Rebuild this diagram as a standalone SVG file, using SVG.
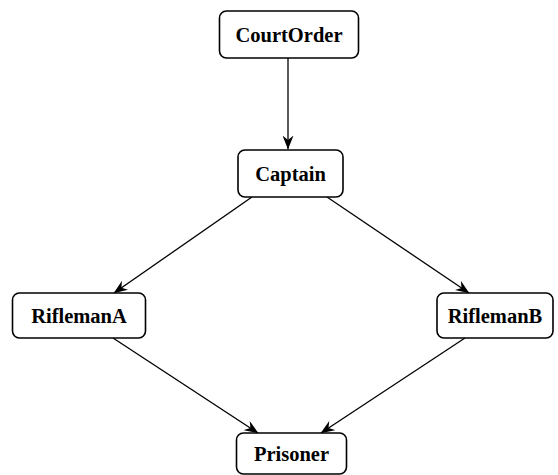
<svg xmlns="http://www.w3.org/2000/svg" width="558" height="475" viewBox="0 0 558 475">
  <style>
    .box { fill: #ffffff; stroke: #000000; stroke-width: 1.6; }
    .label { font-family: "Liberation Serif", "DejaVu Serif", serif; font-weight: bold; font-size: 20.5px; fill: #000000; text-anchor: middle; dominant-baseline: central; }
    .edge { stroke: #000000; stroke-width: 1.3; fill: none; marker-end: url(#head); }
  </style>
  <defs>
    <marker id="head" viewBox="0 0 14 11" refX="13.5" refY="5.5" markerWidth="14" markerHeight="11" markerUnits="userSpaceOnUse" orient="auto">
      <path d="M0,0 L14,5.5 L0,11 L4.5,5.5 Z" fill="#000000"/>
    </marker>
  </defs>
  <rect width="558" height="475" fill="#ffffff"/>
  <g id="connectors">
    <line class="edge" x1="288" y1="58" x2="288" y2="149"/>
    <line class="edge" x1="252" y1="197" x2="114" y2="293"/>
    <line class="edge" x1="327" y1="197" x2="469" y2="293"/>
    <line class="edge" x1="113" y1="338" x2="258" y2="433"/>
    <line class="edge" x1="465" y1="338" x2="321" y2="433"/>
  </g>
  <g id="CourtOrder">
    <rect class="box" x="219.5" y="11" width="139" height="47" rx="7"/>
    <text class="label" x="289" y="34.5">CourtOrder</text>
  </g>
  <g id="Captain">
    <rect class="box" x="238" y="150" width="105" height="47" rx="7"/>
    <text class="label" x="290.5" y="173.5">Captain</text>
  </g>
  <g id="RiflemanA">
    <rect class="box" x="12.5" y="293" width="133" height="45" rx="7"/>
    <text class="label" x="79" y="315.5">RiflemanA</text>
  </g>
  <g id="RiflemanB">
    <rect class="box" x="437" y="293" width="116" height="45" rx="7"/>
    <text class="label" x="495" y="315.5">RiflemanB</text>
  </g>
  <g id="Prisoner">
    <rect class="box" x="236.5" y="433" width="110" height="41" rx="7"/>
    <text class="label" x="291.5" y="454">Prisoner</text>
  </g>
</svg>
